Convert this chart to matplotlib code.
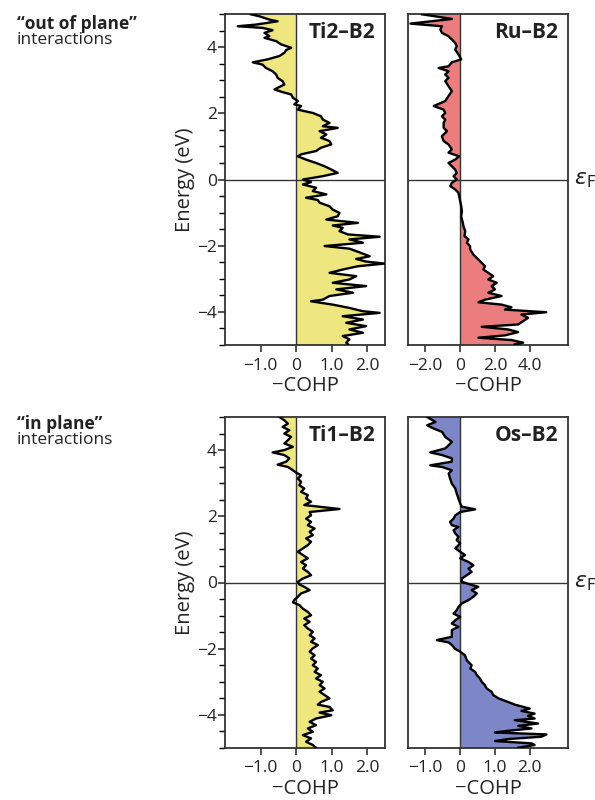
import matplotlib
matplotlib.use("Agg")
import matplotlib.pyplot as plt
from matplotlib.ticker import MultipleLocator

plt.rcParams['font.family'] = ['Open Sans', 'DejaVu Sans']

# (energy eV, -COHP) pairs
ti2_b2 = [(4.99,-1.27),(4.93,-1.03),(4.83,-0.75),(4.78,-0.52),(4.68,-1.13),(4.63,-1.64),(4.58,-0.94),
          (4.51,-0.66),(4.43,-0.89),(4.33,-0.75),(4.28,-0.89),(4.18,-0.56),(4.08,-0.42),(3.98,-0.14),
          (3.91,-0.28),(3.83,-0.33),(3.73,-0.47),(3.63,-0.80),(3.54,-1.22),(3.47,-0.94),(3.37,-0.85),
          (3.27,-0.66),(3.17,-0.56),(3.07,-0.52),(2.97,-0.38),(2.87,-0.33),(2.72,-0.61),(2.64,-0.38),
          (2.57,-0.14),(2.47,-0.09),(2.37,0.05),(2.27,-0.05),(2.22,0.14),(2.11,0.05),(2.01,0.47),
          (1.91,0.70),(1.81,0.75),(1.71,0.94),(1.61,0.75),(1.56,1.17),(1.46,0.66),(1.36,0.85),
          (1.26,0.70),(1.16,0.94),(1.06,0.99),(0.96,0.70),(0.86,0.56),(0.76,0.14),(0.70,0.05),
          (0.60,0.28),(0.50,0.56),(0.40,0.80),(0.30,0.99),(0.20,1.17),(0.10,0.75),(0.00,0.19),
          (-0.08,0.42),(-0.15,0.19),(-0.25,0.56),(-0.35,0.47),(-0.45,0.85),(-0.55,0.28),(-0.62,0.61),
          (-0.70,0.66),(-0.81,0.94),(-0.91,1.03),(-1.01,1.22),(-1.11,1.17),(-1.21,0.85),(-1.31,1.74),
          (-1.39,1.03),(-1.46,1.31),(-1.56,1.22),(-1.66,1.46),(-1.73,2.35),(-1.81,1.50),(-1.91,1.88),
          (-2.01,0.80),(-2.09,1.50),(-2.20,1.78),(-2.32,2.07),(-2.40,1.69),(-2.48,1.97),(-2.54,2.49),
          (-2.62,1.74),(-2.72,1.31),(-2.82,0.94),(-2.92,1.69),(-3.02,1.50),(-3.12,1.03),(-3.22,1.97),
          (-3.32,1.13),(-3.42,1.60),(-3.52,0.94),(-3.63,0.75),(-3.68,0.42),(-3.78,1.03),(-3.88,1.50),
          (-3.98,1.88),(-4.03,2.35),(-4.13,1.31),(-4.23,1.88),(-4.33,1.41),(-4.43,1.97),(-4.53,1.50),
          (-4.63,1.88),(-4.73,1.31),(-4.83,1.50),(-4.93,1.41),(-4.98,1.46)]

ru_b2 = [(4.99,-2.19),(4.93,-1.43),(4.85,-0.48),(4.71,-2.86),(4.63,-1.05),(4.53,-1.14),(4.43,-1.05),
         (4.33,-0.67),(4.23,-0.48),(4.13,-0.29),(4.03,-0.19),(3.93,-0.29),(3.78,-0.10),(3.63,0.06),
         (3.54,-0.48),(3.42,-0.67),(3.37,-1.24),(3.27,-0.67),(3.17,-0.86),(3.07,-0.67),(2.97,-0.86),
         (2.82,-0.67),(2.67,-0.48),(2.52,-0.67),(2.37,-0.86),(2.22,-1.52),(2.11,-0.95),(2.01,-0.86),
         (1.91,-1.05),(1.81,-0.86),(1.71,-0.95),(1.56,-0.95),(1.46,-0.76),(1.31,-1.05),(1.16,-0.95),
         (1.06,-0.67),(0.91,-0.48),(0.81,-0.67),(0.70,-0.06),(0.60,-0.29),(0.50,-0.67),(0.40,-0.48),
         (0.30,-0.29),(0.20,-0.19),(0.10,-0.38),(0.00,-0.19),(-0.10,-0.48),(-0.20,-0.57),(-0.30,-0.29),
         (-0.40,-0.10),(-0.50,-0.06),(-0.65,0.00),(-0.81,0.06),(-0.96,0.10),(-1.11,0.06),(-1.26,0.13),
         (-1.41,0.19),(-1.56,0.29),(-1.71,0.25),(-1.81,0.48),(-1.91,0.38),(-2.01,0.57),(-2.11,0.57),
         (-2.27,0.76),(-2.42,1.05),(-2.52,1.24),(-2.62,1.43),(-2.72,1.33),(-2.82,1.62),(-2.92,1.90),
         (-3.02,1.62),(-3.12,2.10),(-3.22,1.81),(-3.32,2.00),(-3.42,1.62),(-3.52,2.38),(-3.63,1.43),
         (-3.71,1.05),(-3.78,2.38),(-3.86,2.95),(-3.93,2.57),(-4.01,4.95),(-4.08,3.52),(-4.18,3.90),
         (-4.28,3.62),(-4.38,3.33),(-4.45,1.24),(-4.53,2.76),(-4.61,3.33),(-4.71,2.57),(-4.78,1.05),
         (-4.85,2.95),(-4.93,3.62),(-4.98,3.14)]

ti1_b2 = [(5.00,-0.47),(4.90,-0.33),(4.80,-0.23),(4.70,-0.38),(4.60,-0.19),(4.50,-0.33),(4.40,-0.14),
          (4.30,-0.23),(4.20,-0.33),(4.10,-0.09),(4.00,-0.33),(3.93,-0.66),(3.85,-0.33),(3.75,-0.19),
          (3.65,-0.28),(3.56,-0.52),(3.49,-0.23),(3.39,-0.09),(3.32,0.00),(3.24,0.14),(3.14,0.05),
          (3.04,0.14),(2.94,0.09),(2.84,0.23),(2.74,0.14),(2.64,0.33),(2.54,0.28),(2.44,0.42),
          (2.34,0.23),(2.22,1.22),(2.13,0.38),(2.03,0.42),(1.93,0.28),(1.83,0.42),(1.73,0.33),
          (1.63,0.52),(1.53,0.38),(1.43,0.47),(1.33,0.28),(1.23,0.42),(1.13,0.33),(1.03,0.19),
          (0.93,0.05),(0.83,0.19),(0.73,0.33),(0.62,0.14),(0.52,0.28),(0.42,0.19),(0.32,0.33),
          (0.22,0.42),(0.12,0.19),(0.02,0.05),(-0.06,0.09),(-0.13,0.23),(-0.23,0.38),(-0.33,0.14),
          (-0.43,0.05),(-0.53,-0.05),(-0.60,-0.09),(-0.68,0.09),(-0.79,0.19),(-0.89,0.33),(-0.99,0.42),
          (-1.09,0.23),(-1.19,0.38),(-1.29,0.23),(-1.39,0.33),(-1.49,0.47),(-1.59,0.38),(-1.69,0.52),
          (-1.79,0.42),(-1.89,0.61),(-1.99,0.47),(-2.09,0.38),(-2.20,0.52),(-2.30,0.42),(-2.40,0.56),
          (-2.50,0.47),(-2.60,0.61),(-2.70,0.52),(-2.80,0.70),(-2.90,0.56),(-3.00,0.75),(-3.10,0.66),
          (-3.20,0.80),(-3.30,0.66),(-3.40,0.80),(-3.50,0.94),(-3.61,0.70),(-3.69,0.61),(-3.76,0.94),
          (-3.86,1.03),(-3.93,0.66),(-4.01,0.99),(-4.11,0.56),(-4.21,0.38),(-4.31,0.56),(-4.41,0.33),
          (-4.51,0.47),(-4.61,0.19),(-4.71,0.42),(-4.81,0.28),(-4.91,0.47),(-4.99,0.56)]

os_b2 = [(5.00,-0.95),(4.85,-0.71),(4.75,-0.95),(4.65,-0.76),(4.55,-0.52),(4.40,-0.43),(4.25,-0.24),
         (4.15,-0.33),(4.05,-0.43),(3.93,-0.86),(3.85,-0.52),(3.75,-0.24),(3.65,-0.24),(3.54,-0.86),
         (3.49,-0.52),(3.39,-0.24),(3.29,-0.33),(3.14,-0.29),(2.99,-0.24),(2.84,-0.14),(2.69,-0.10),
         (2.54,-0.05),(2.39,0.00),(2.29,0.05),(2.21,0.43),(2.13,0.00),(2.03,-0.14),(1.93,-0.19),
         (1.83,-0.29),(1.73,-0.24),(1.68,-0.05),(1.58,-0.19),(1.48,-0.14),(1.38,-0.05),(1.28,-0.10),
         (1.18,0.00),(1.03,-0.14),(0.93,0.00),(0.83,0.14),(0.73,0.00),(0.62,0.24),(0.52,0.38),
         (0.42,0.24),(0.32,0.33),(0.22,0.19),(0.12,0.05),(0.02,0.05),(-0.06,0.29),(-0.13,0.52),
         (-0.23,0.33),(-0.33,0.48),(-0.43,0.38),(-0.53,0.24),(-0.63,0.05),(-0.74,-0.05),(-0.84,-0.10),
         (-0.94,-0.19),(-1.04,0.00),(-1.14,-0.14),(-1.24,-0.24),(-1.34,-0.05),(-1.44,-0.24),(-1.54,-0.24),
         (-1.64,-0.24),(-1.74,-0.67),(-1.81,-0.33),(-1.89,-0.24),(-2.01,-0.14),(-2.09,0.00),(-2.20,0.14),
         (-2.35,0.19),(-2.50,0.33),(-2.60,0.29),(-2.70,0.43),(-2.80,0.48),(-2.90,0.57),(-3.00,0.62),
         (-3.10,0.71),(-3.20,0.76),(-3.30,0.90),(-3.40,0.95),(-3.50,1.10),(-3.61,1.38),(-3.69,1.57),
         (-3.81,2.00),(-3.88,1.76),(-3.96,2.14),(-4.03,1.95),(-4.11,2.14),(-4.16,1.57),(-4.26,2.24),
         (-4.33,1.67),(-4.41,2.05),(-4.48,1.38),(-4.53,1.00),(-4.59,2.48),(-4.66,2.33),(-4.73,1.38),
         (-4.79,1.00),(-4.86,2.05),(-4.91,2.14),(-4.99,1.67)]

panel_names = ["Ti2\u2013B2", "Ru\u2013B2", "Ti1\u2013B2", "Os\u2013B2"]
panel_data = [ti2_b2, ru_b2, ti1_b2, os_b2]
panel_colors = ["#EEE67E", "#EC7D7E", "#7D86C6"]
xlims = [(-2.0, 2.5), (-3.0, 6.2), (-2.0, 2.5), (-1.5, 3.1)]
xticks = [[-1, 0, 1, 2], [-2, 0, 2, 4], [-1, 0, 1, 2], [-1, 0, 1, 2]]
xticklabels = [["\u22121.0", "0", "1.0", "2.0"], ["\u22122.0", "0", "2.0", "4.0"],
               ["\u22121.0", "0", "1.0", "2.0"], ["\u22121.0", "0", "1.0", "2.0"]]
fill_colors = [panel_colors[0], panel_colors[1], panel_colors[0], panel_colors[2]]
yticks = [-4, -2, 0, 2, 4]
group_titles = ["\u201cout of plane\u201d", "\u201cin plane\u201d"]

W, H = 595, 800
fig = plt.figure(figsize=(W / 100, H / 100), dpi=100)

boxes = [(225, 14), (408, 14), (225, 417), (408, 417)]
aw, ah = 160, 331
for i, (x0, y0) in enumerate(boxes):
    ax = fig.add_axes([x0 / W, 1 - (y0 + ah) / H, aw / W, ah / H])
    data = panel_data[i]
    e = [p[0] for p in data]
    v = [p[1] for p in data]
    ax.fill_betweenx(e, 0, v, color=fill_colors[i], lw=0, zorder=1)
    ax.axvline(0, color="#333333", lw=1.0, zorder=2)
    ax.axhline(0, color="#333333", lw=1.0, zorder=2)
    ax.plot(v, e, color="black", lw=1.7, zorder=3)
    ax.set_xlim(*xlims[i])
    ax.set_ylim(-5, 5)
    ax.set_xticks(xticks[i])
    ax.set_xticklabels(xticklabels[i], fontsize=12.5)
    ax.tick_params(axis="x", direction="out", length=5, width=1.1, pad=4, colors="#222222")
    ax.set_xlabel("\u2212COHP", fontsize=14.5, labelpad=2, color="#222222")
    for s in ax.spines.values():
        s.set_linewidth(1.3)
        s.set_color("#333333")
    ax.text(0.94, 0.975, panel_names[i], transform=ax.transAxes, ha="right", va="top",
            fontsize=15, fontweight="bold", color="#222222")
    if i % 2 == 0:
        ax.set_yticks(yticks)
        ax.set_yticklabels(["\u22124", "\u22122", "0", "2", "4"], fontsize=12.5)
        ax.yaxis.set_minor_locator(MultipleLocator(0.5))
        ax.tick_params(axis="y", which="major", direction="out", length=5, width=1.1, pad=1, colors="#222222")
        ax.tick_params(axis="y", which="minor", direction="out", length=4, width=1.0)
        ax.set_ylabel("Energy (eV)", fontsize=14.5, labelpad=1, color="#222222")
    else:
        ax.set_yticks([])
        ax.text(1.04, 0.5, r"$\varepsilon_\mathrm{F}$", transform=ax.transAxes,
                ha="left", va="center", fontsize=16, color="#222222")

for j, ytop in enumerate([15, 415]):
    fig.text(17 / W, 1 - ytop / H, group_titles[j], ha="left", va="top",
             fontsize=12.5, fontweight="bold", color="#222222")
    fig.text(17 / W, 1 - (ytop + 17) / H, "interactions", ha="left", va="top",
             fontsize=12.5, color="#222222")

fig.savefig("out.png", dpi=100)
